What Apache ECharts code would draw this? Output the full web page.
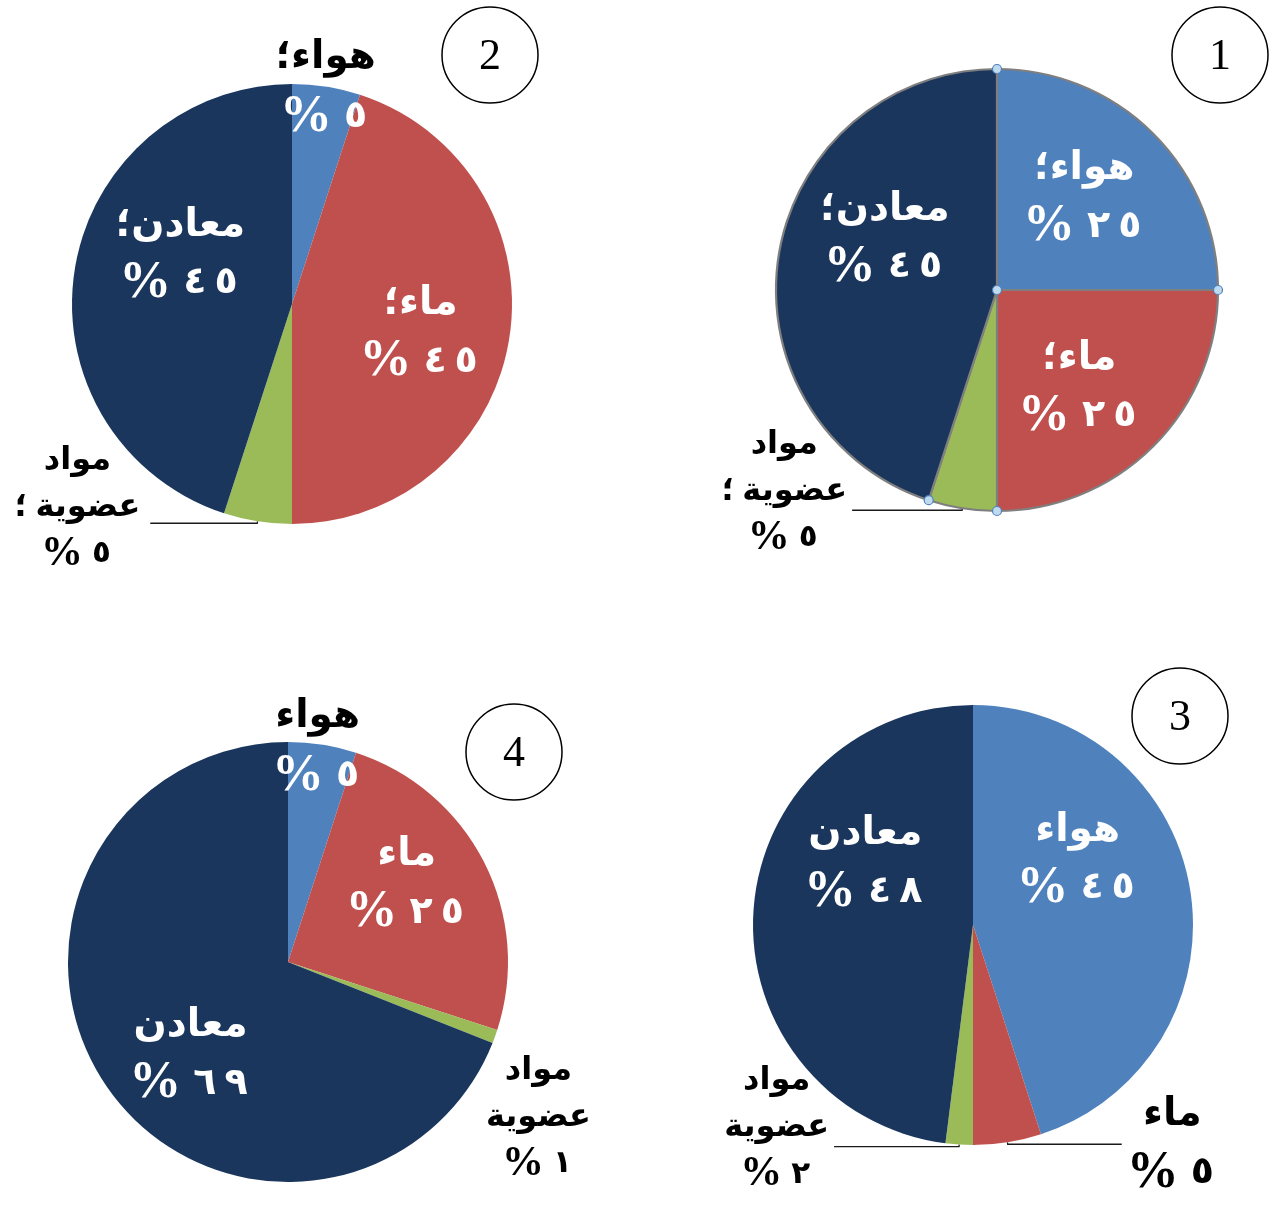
<!DOCTYPE html>
<html><head><meta charset="utf-8">
<script src="https://cdn.jsdelivr.net/npm/echarts@6/dist/echarts.min.js"></script>
<style>html,body{margin:0;padding:0;background:#fff}#c{width:1280px;height:1215px}</style>
</head><body><div id="c"></div>
<script>
// ---- data ----
const categories = ['هواء', 'ماء', 'مواد عضوية', 'معادن'];
const values1 = [25, 25, 5, 45];
const values2 = [5, 45, 5, 45];
const values3 = [45, 5, 2, 48];
const values4 = [5, 25, 1, 69];
const chartNumbers = ['1', '2', '3', '4'];

// ---- styles / layout ----
const colors = ['#4F81BD', '#C0504D', '#9BBB59', '#1A365D'];
const FONT = '"Liberation Serif", "DejaVu Sans", sans-serif';
const toIndic = n => String(n).replace(/\d/g, d => '٠١٢٣٤٥٦٧٨٩'[d]);

// mode: in = white inside, split = black name + white value, out = outside with line, free = outside without line
const pies = [
  { values: values1, center: [997, 290], r: 221, sep: true, border: true, num: [1220, 55],
    items: [{ mode: 'in', off: [7, -15] }, { mode: 'in', off: [2, 14] },
            { mode: 'out', len2: 110, pad: [0, 0, 38, 0] }, { mode: 'in', off: [0, -37] }] },
  { values: values2, center: [292, 304], r: 220, sep: true, border: false, num: [490, 55],
    items: [{ mode: 'split', off: [16, -110] }, { mode: 'in', off: [17, 8] },
            { mode: 'out', len2: 107, pad: [0, 5, 32, 0] }, { mode: 'in', off: [0, -35] }] },
  { values: values3, center: [973, 925], r: 220, sep: false, border: false, num: [1180, 716],
    items: [{ mode: 'in', off: [-7, -51] }, { mode: 'out', len2: 114, pad: [0, 0, 0, 0], big: true },
            { mode: 'out', len2: 125, pad: [0, 0, 38, 0] }, { mode: 'in', off: [5, -58] }] },
  { values: values4, center: [288, 962], r: 220, sep: false, border: false, num: [514, 752],
    items: [{ mode: 'split', off: [12, -109] }, { mode: 'in', off: [18, -30] },
            { mode: 'free', off: [-15, 78] }, { mode: 'in', off: [-4, 26] }] }
];

// rich styles: colour (w/k) x size (L/S) x part (n name, p percent, d digit)
const sizes = { L: { n: 39, p: 52, d: 38, lh: 58, gap: 8, dp: 4 }, S: { n: 32, p: 42, d: 31, lh: 47, gap: 6, dp: 3 } };
const rich = {};
['w', 'k'].forEach(c => Object.keys(sizes).forEach(s => {
  const z = sizes[s];
  const base = { color: c === 'w' ? '#fff' : '#000', fontWeight: 'bold', fontFamily: FONT, lineHeight: z.lh, align: 'center' };
  rich[c + s + 'n'] = Object.assign({}, base, { fontSize: z.n });
  rich[c + s + 'p'] = Object.assign({}, base, { fontSize: z.p, padding: [0, z.gap, 0, 0] });
  rich[c + s + 'd'] = Object.assign({}, base, { fontSize: z.d, padding: [0, z.dp] });
}));
rich.kT = Object.assign({}, rich.kLn, { lineHeight: 62 });

function valueLine(v, c, s) {
  return '{' + c + s + 'p|%}' + toIndic(v).split('').map(d => '{' + c + s + 'd|' + d + '}').join('');
}

function labelText(pie, i, v) {
  const name = categories[i];
  const parts = name.split(' ');
  const mode = pie.items[i].mode;
  if (mode === 'in') {
    return '{wLn|' + name + (pie.sep ? '؛' : '') + '}\n' + valueLine(v, 'w', 'L');
  }
  if (mode === 'split') {
    return '{kT|' + name + (pie.sep ? '؛' : '') + '}\n' + valueLine(v, 'w', 'L');
  }
  const s = pie.items[i].big ? 'L' : 'S';
  let lines;
  if (parts.length > 1) {
    lines = ['{k' + s + 'n|' + parts[0] + '}', '{k' + s + 'n|' + parts[1] + (pie.sep ? ' ؛' : '') + '}'];
  } else {
    lines = ['{k' + s + 'n|' + name + (pie.sep ? '؛' : '') + '}'];
  }
  lines.push(valueLine(v, 'k', s));
  return lines.join('\n');
}

const series = pies.map((pie, si) => ({
  type: 'pie',
  center: pie.center,
  radius: pie.r,
  startAngle: 90,
  clockwise: true,
  avoidLabelOverlap: false,
  animation: false,
  silent: true,
  itemStyle: pie.border ? { borderColor: '#7F7F7F', borderWidth: 2.2 } : { borderWidth: 0 },
  labelLayout: function (p) {
    const it = pies[p.seriesIndex].items[p.dataIndex];
    if (it.mode === 'out') return {};
    const rc = p.labelRect;
    return { x: rc.x + rc.width / 2 + it.off[0], y: rc.y + rc.height / 2 + it.off[1], align: 'center', verticalAlign: 'middle' };
  },
  data: pie.values.map((v, i) => {
    const it = pie.items[i];
    const outside = it.mode === 'out' || it.mode === 'free';
    return {
      name: categories[i],
      value: v,
      itemStyle: { color: colors[i] },
      label: {
        show: true,
        position: outside ? 'outside' : 'inside',
        formatter: labelText(pie, i, v),
        rich: rich,
        padding: it.pad || 0,
        distanceToLabelLine: 5
      },
      labelLine: {
        show: it.mode === 'out',
        length: it.mode === 'out' ? 2 : 1,
        length2: it.len2 || 0,
        smooth: false,
        lineStyle: { color: '#1a1a1a', width: 1.3 }
      }
    };
  })
}));

// graphic: circled numbers + selection handles of pie 1 (from its slice boundaries)
const graphic = [];
pies.forEach((pie, si) => {
  graphic.push({ type: 'circle', shape: { cx: pie.num[0], cy: pie.num[1], r: 48 },
    style: { fill: 'none', stroke: '#000', lineWidth: 1.5 }, silent: true });
  graphic.push({ type: 'text', x: pie.num[0], y: pie.num[1] + 2,
    style: { text: chartNumbers[si], fill: '#000', font: '44px "Liberation Serif", serif', textAlign: 'center', textVerticalAlign: 'middle' }, silent: true });
});
(function () {
  const pie = pies[0];
  const total = pie.values.reduce((a, b) => a + b, 0);
  let acc = 0;
  const pts = [[pie.center[0], pie.center[1]]];
  pie.values.forEach(v => {
    const a = acc / total * Math.PI * 2;
    pts.push([pie.center[0] + pie.r * Math.sin(a), pie.center[1] - pie.r * Math.cos(a)]);
    acc += v;
  });
  pts.forEach(p => graphic.push({ type: 'circle', shape: { cx: p[0], cy: p[1], r: 4.5 },
    style: { fill: '#BFD9EE', stroke: '#4F81BD', lineWidth: 1.2 }, silent: true, z: 100 }));
})();

const chart = echarts.init(document.getElementById('c'), null, { renderer: 'canvas' });
chart.setOption({ backgroundColor: '#fff', animation: false, series: series, graphic: graphic });
</script></body></html>
